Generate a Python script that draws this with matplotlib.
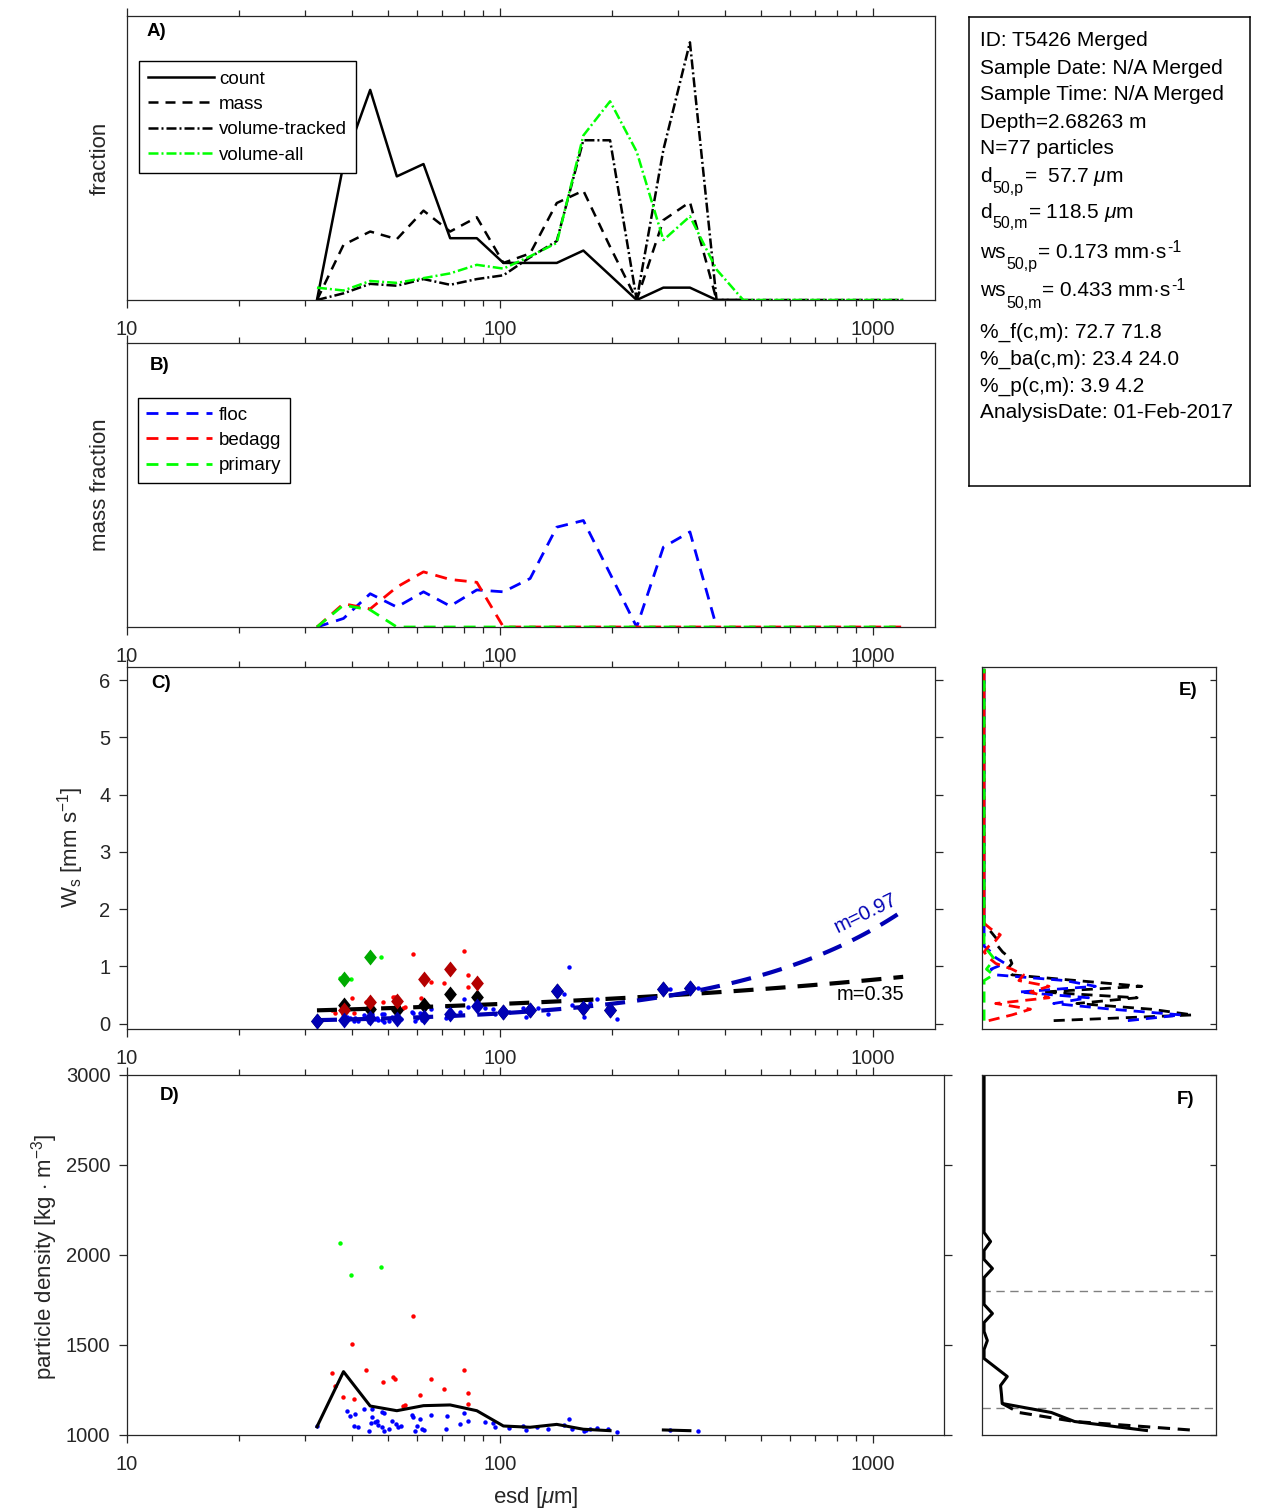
import numpy as np
import matplotlib
matplotlib.use('Agg')
import matplotlib.pyplot as plt
from matplotlib.ticker import LogLocator, NullFormatter, NullLocator

# ---------------- data ----------------
nan = np.nan
esd_bins = [32.3, 38.05, 44.86, 52.88, 62.34, 73.49, 86.63, 102.1, 120.4, 141.9, 167.2,
            197.2, 232.4, 274.0, 322.8, 380.5, 448.6, 528.8, 623.4, 734.9, 866.3, 1021, 1204]
xtick_vals = [10, 100, 1000]
xtick_labels = ['10', '100', '1000']

# panel A: size distributions (fractions)
frac_count = [0, .143, .221, .130, .143, .065, .065, .039, .039, .039, .052, .026, 0, .013, .013, 0, 0,
              nan, nan, nan, nan, nan, nan]
frac_mass = [0, .058, .072, .064, .094, .072, .087, .039, .049, .102, .115, .056, 0, .084, .103, 0, 0,
             nan, nan, nan, nan, nan, nan]
frac_vol_tracked = [0, .007, .017, .015, .022, .016, .022, .026, .045, .062, .168, .168, 0, .158, .271,
                    0, 0, 0, 0, 0, 0, 0, 0]
frac_vol_all = [.013, .010, .020, .018, .023, .028, .037, .033, .046, .060, .173, .209, .156, .063, .088,
                .032, 0, 0, 0, 0, 0, 0, 0]

# panel B: mass fraction by class
mfrac_floc = [0, .009, .035, .021, .037, .022, .039, .037, .051, .105, .112, .056, 0, .084, .100, 0,
              nan, nan, nan, nan, nan, nan, nan]
mfrac_bedagg = [0, .0245, .019, .042, .058, .050, .047, 0, 0, 0, 0, 0, 0, 0, 0, 0, 0, 0, 0, 0, 0, 0, 0]
mfrac_primary = [0, .023, .018, 0, 0, 0, 0, 0, 0, 0, 0, 0, 0, 0, 0, 0, 0, 0, 0, 0, 0, 0, 0]

# individual particles: esd [um], density [kg m-3], settling velocity [mm/s]
floc_d = [32.4, 38.8, 39.7, 40.9, 40.6, 41.7, 43.2, 44.4, 45.0, 45.4, 45.4, 46.3, 46.9, 47.2, 48.3,
          48.3, 48.9, 48.9, 50.3, 51.2, 52.7, 53.2, 54.3, 58.1, 58.5, 59.2, 59.8, 60.9, 61.8, 62.6,
          65.1, 71.7, 72.1, 77.9, 80.0, 82.1, 91.3, 95.8, 96.9, 105.7, 115.1, 117.7, 126.0, 134.6,
          148.8, 152.7, 156.3, 167.7, 170.0, 174.2, 181.7, 194.3, 205.5, 284.8, 340.0]
floc_rho = [1050, 1135, 1107, 1115, 1050, 1046, 1144, 1024, 1065, 1098, 1146, 1070, 1080, 1056, 1130,
            1043, 1120, 1021, 1033, 1078, 1059, 1043, 1050, 1111, 1102, 1024, 1050, 1089, 1035, 1028,
            1111, 1035, 1106, 1059, 1120, 1076, 1070, 1065, 1043, 1037, 1052, 1028, 1046, 1032,
            1057, 1089, 1035, 1021, 1030, 1035, 1037, 1035, 1017, 1028, 1022]
floc_ws = [0.03, 0.11, 0.09, 0.10, 0.05, 0.04, 0.15, 0.03, 0.07, 0.11, 0.16, 0.08, 0.10, 0.07, 0.17,
           0.06, 0.16, 0.03, 0.05, 0.11, 0.09, 0.07, 0.08, 0.20, 0.19, 0.05, 0.10, 0.18, 0.07, 0.06,
           0.26, 0.10, 0.30, 0.20, 0.42, 0.28, 0.27, 0.26, 0.17, 0.20, 0.27, 0.12, 0.27, 0.17,
           0.51, 0.98, 0.33, 0.11, 0.27, 0.36, 0.42, 0.27, 0.08, 0.61, 0.62]
bedagg_d = [35.4, 36.2, 38.0, 40.1, 40.6, 43.8, 48.5, 51.8, 52.4, 55.1, 55.6, 58.3, 61.2, 65.4, 70.8,
            80.0, 81.8, 81.8]
bedagg_rho = [1343, 1272, 1209, 1504, 1198, 1361, 1296, 1324, 1311, 1161, 1167, 1661, 1221, 1313, 1256,
              1361, 1232, 1172]
bedagg_ws = [0.23, 0.19, 0.16, 0.44, 0.18, 0.38, 0.38, 0.47, 0.46, 0.27, 0.28, 1.22, 0.45, 0.73, 0.70,
             1.26, 0.85, 0.63]
primary_d = [37.2, 39.9, 47.9]
primary_rho = [2065, 1887, 1935]
primary_ws = [0.80, 0.77, 1.17]

# bin medians of settling velocity (diamonds), per class
med_ws_all = [0.05, 0.32, 0.25, 0.24, 0.33, 0.52, 0.46, 0.20, 0.24, 0.56, 0.27, 0.24, nan, 0.61, 0.62]
med_ws_floc = [0.05, 0.07, 0.10, 0.08, 0.11, 0.17, 0.30, 0.20, 0.24, 0.56, 0.27, 0.24, nan, 0.61, 0.62]
med_ws_bedagg = [nan, 0.24, 0.37, 0.39, 0.78, 0.96, 0.71]
med_ws_primary = [nan, 0.78, 1.17]

# power-law fits ws = a (d/d_ref)^m
fit_dref = 32.3
fit_dmax = 1204
fit_floc_a, fit_floc_m = 0.059, 0.97
fit_all_a, fit_all_m = 0.23, 0.35

# panel D: median density per size bin
rho_median = [1046, 1352, 1161, 1135, 1163, 1167, 1135, 1050, 1043, 1059, 1032, 1024, nan, 1028, 1024]

# panel E: settling velocity distributions
E_ws = [0.05, 0.15, 0.25, 0.35, 0.45, 0.55, 0.65, 0.75, 0.85, 0.95, 1.05, 1.15, 1.25, 1.35, 1.45,
        1.55, 1.65, 1.75, 6.2]
E_all = [0.30, 0.90, 0.72, 0.40, 0.66, 0.25, 0.68, 0.40, 0.12, 0.10, 0.12, 0.11, 0.08, 0.06, 0.06,
         0.04, 0.02, 0, 0]
E_floc = [0.62, 0.85, 0.55, 0.30, 0.45, 0.15, 0.48, 0.35, 0.05, 0.03, 0.09, 0.05, 0.03, 0, 0, 0, 0, 0, 0]
E_bedagg = [0.02, 0.12, 0.20, 0.05, 0.28, 0.20, 0.28, 0.15, 0.17, 0.12, 0.05, 0.02, 0, 0.02, 0.05,
            0.07, 0.03, 0, 0]
E_primary = [0, 0, 0, 0, 0, 0, 0, 0, 0.04, 0.01, 0.03, 0.04, 0.02, 0, 0, 0, 0, 0, 0]

# panel F: density distributions
F_rho = [3000, 2125, 2075, 2025, 1975, 1925, 1875, 1825, 1775, 1725, 1675, 1625, 1575, 1525, 1475,
         1425, 1375, 1325, 1275, 1225, 1175, 1125, 1075, 1025]
F_frac = [0, 0, .028, 0, 0, .036, 0, 0, 0, 0, .036, 0, 0, .014, 0, 0, .05, .10, .071, .075, .078,
          .29, .39, .70]
F_rho_model = [1175, 1125, 1075, 1025]
F_frac_model = [.078, .15, .39, .92]
F_limits = [1800, 1150]

# info box: pieces per line (text, kind)
info_lines = [
    [("ID: T5426 Merged", "n")],
    [("Sample Date: N/A Merged", "n")],
    [("Sample Time: N/A Merged", "n")],
    [("Depth=2.68263 m", "n")],
    [("N=77 particles", "n")],
    [("d", "n"), ("50,p", "sub"), (r"=  57.7 $\mu$m", "n")],
    [("d", "n"), ("50,m", "sub"), (r"= 118.5 $\mu$m", "n")],
    [("ws", "n"), ("50,p", "sub"), ("= 0.173 mm·s", "n"), ("-1", "sup")],
    [("ws", "n"), ("50,m", "sub"), ("= 0.433 mm·s", "n"), ("-1", "sup")],
    [("%_f(c,m): 72.7 71.8", "n")],
    [("%_ba(c,m): 23.4 24.0", "n")],
    [("%_p(c,m): 3.9 4.2", "n")],
    [("AnalysisDate: 01-Feb-2017", "n")],
]
info_baselines = [46.5, 73.5, 100.5, 127.5, 154.5, 181.5, 217.5, 258.5, 296.5, 337.5, 364.5, 391.5, 418.5]

# ---------------- style ----------------
plt.rcParams['font.family'] = ['Liberation Sans', 'DejaVu Sans']
plt.rcParams['mathtext.fontset'] = 'custom'
plt.rcParams['mathtext.rm'] = 'Liberation Sans'
plt.rcParams['mathtext.it'] = 'Liberation Sans:italic'
plt.rcParams['mathtext.bf'] = 'Liberation Sans:bold'

W, H = 1270, 1511
fig = plt.figure(figsize=(W / 100, H / 100), dpi=100)
AXC = '#262626'
GREEN = (0, 1, 0)
TICK_FS = 14.5
LABEL_FS = 16
LEG_FS = 13.5


def add_ax(x0, y0, x1, y1):
    return fig.add_axes([x0 / W, 1 - y1 / H, (x1 - x0) / W, (y1 - y0) / H])


def frame(ax):
    for s in ax.spines.values():
        s.set_linewidth(0.9)
        s.set_color(AXC)


def logx(ax, xmax):
    ax.set_xscale('log')
    ax.set_xlim(10, xmax)
    ax.set_xticks(xtick_vals)
    ax.set_xticklabels(xtick_labels)
    ax.xaxis.set_minor_locator(LogLocator(base=10, subs=np.arange(2, 10), numticks=20))
    ax.xaxis.set_minor_formatter(NullFormatter())
    ax.tick_params(axis='x', which='both', direction='out', top=True, bottom=True,
                   colors=AXC, labelsize=TICK_FS, pad=8.5)
    ax.tick_params(axis='x', which='major', length=6, width=0.9)
    ax.tick_params(axis='x', which='minor', length=4, width=0.9)


def ptext(x, y, s, **kw):
    return fig.text(x / W, 1 - y / H, s, **kw)


# ---------------- panel A ----------------
axA = add_ax(127, 16, 935, 300)
axA.plot(esd_bins, frac_count, color='k', lw=1.8, label='count')
axA.plot(esd_bins, frac_mass, color='k', lw=1.8, ls=(0, (4, 2.8)), label='mass')
axA.plot(esd_bins, frac_vol_tracked, color='k', lw=1.8, ls=(0, (4, 1.2, 0.8, 1.2)), label='volume-tracked')
axA.plot(esd_bins, frac_vol_all, color=GREEN, lw=1.8, ls=(0, (4, 1.2, 0.8, 1.2)), label='volume-all')
axA.set_ylim(0, 0.2987)
axA.yaxis.set_major_locator(NullLocator())
logx(axA, 1465)
frame(axA)
legA = axA.legend(loc='upper left', bbox_to_anchor=((139 - 127) / 808, 1 - (61 - 16) / 284),
                  borderaxespad=0, fontsize=LEG_FS, handlelength=3.5, handletextpad=0.27,
                  labelspacing=0.44, borderpad=0.5, fancybox=False, edgecolor='k', framealpha=1)
legA.get_frame().set_linewidth(1.0)
ptext(156, 32, 'A)', ha='center', va='center', fontsize=13.5, fontweight='bold')
ptext(100, 158, 'fraction', ha='center', va='center', rotation=90, fontsize=LABEL_FS, color=AXC)

# ---------------- panel B ----------------
axB = add_ax(127, 343, 935, 627)
axB.plot(esd_bins, mfrac_floc, color='b', lw=2, ls=(0, (4.3, 2.9)), label='floc')
axB.plot(esd_bins, mfrac_bedagg, color='r', lw=2, ls=(0, (4.3, 2.9)), label='bedagg')
axB.plot(esd_bins, mfrac_primary, color=GREEN, lw=2, ls=(0, (4.3, 2.9)), label='primary')
axB.set_ylim(0, 0.2987)
axB.yaxis.set_major_locator(NullLocator())
logx(axB, 1465)
frame(axB)
legB = axB.legend(loc='upper left', bbox_to_anchor=((138 - 127) / 808, 1 - (398 - 343) / 284),
                  borderaxespad=0, fontsize=LEG_FS, handlelength=3.5, handletextpad=0.35,
                  labelspacing=0.44, borderpad=0.45, fancybox=False, edgecolor='k', framealpha=1)
legB.get_frame().set_linewidth(1.0)
ptext(160, 365, 'B)', ha='center', va='center', fontsize=13.5, fontweight='bold')
ptext(100, 485, 'mass fraction', ha='center', va='center', rotation=90, fontsize=LABEL_FS, color=AXC)

# ---------------- panel C ----------------
C_ylim = (-0.096, 6.23)
axC = add_ax(127, 667, 935, 1029)
axC.plot(floc_d, floc_ws, 'o', color='b', ms=3.2, mew=0, zorder=2)
axC.plot(bedagg_d, bedagg_ws, 'o', color='r', ms=3.2, mew=0, zorder=2)
axC.plot(primary_d, primary_ws, 'o', color=GREEN, ms=3.2, mew=0, zorder=2)
d_fit = np.geomspace(fit_dref, fit_dmax, 120)
axC.plot(d_fit, fit_all_a * (d_fit / fit_dref) ** fit_all_m, color='k', lw=3,
         ls=(0, (4.8, 2.9)), zorder=3)
axC.plot(d_fit, fit_floc_a * (d_fit / fit_dref) ** fit_floc_m, color='#0000B4', lw=3,
         ls=(0, (4.8, 2.9)), zorder=3)
dia = [(0, 1), (0.8, 0), (0, -1), (-0.8, 0), (0, 1)]
axC.plot(esd_bins[:len(med_ws_all)], med_ws_all, ls='none', marker=dia, ms=11.5, color='k', mew=0, zorder=4)
axC.plot(esd_bins[:len(med_ws_bedagg)], med_ws_bedagg, ls='none', marker=dia, ms=11.5, color='#B40000', mew=0, zorder=5)
axC.plot(esd_bins[:len(med_ws_primary)], med_ws_primary, ls='none', marker=dia, ms=11.5, color='#00AA00', mew=0, zorder=5)
axC.plot(esd_bins[:len(med_ws_floc)], med_ws_floc, ls='none', marker=dia, ms=11.5, color='#0000B4', mew=0, zorder=6)
axC.set_ylim(*C_ylim)
axC.set_yticks(range(0, 7))
axC.tick_params(axis='y', direction='out', left=True, right=True, length=6, width=0.9,
                colors=AXC, labelsize=TICK_FS, pad=6)
logx(axC, 1465)
frame(axC)
ptext(161, 684, 'C)', ha='center', va='center', fontsize=13.5, fontweight='bold')
ptext(866, 913, 'm=0.97', ha='center', va='center', rotation=26, fontsize=TICK_FS, color='#0000B4')
ptext(870, 995, 'm=0.35', ha='center', va='center', fontsize=TICK_FS, color='k')
ptext(71, 847, r'W$_{\mathrm{s}}$ [mm s$^{\mathrm{-1}}$]', ha='center', va='center', rotation=90,
      fontsize=LABEL_FS, color=AXC)

# ---------------- panel D ----------------
axD = add_ax(127, 1075, 944, 1435)
axD.plot(floc_d, floc_rho, 'o', color='b', ms=3.2, mew=0, zorder=2)
axD.plot(bedagg_d, bedagg_rho, 'o', color='r', ms=3.2, mew=0, zorder=2)
axD.plot(primary_d, primary_rho, 'o', color=GREEN, ms=3.2, mew=0, zorder=2)
axD.plot(esd_bins[:len(rho_median)], rho_median, color='k', lw=2.2, zorder=3)
axD.set_ylim(1000, 3000)
axD.set_yticks([1000, 1500, 2000, 2500, 3000])
axD.tick_params(axis='y', direction='out', left=True, right=True, length=6, width=0.9,
                colors=AXC, labelsize=TICK_FS, pad=6)
logx(axD, 1549)
frame(axD)
axD.set_xlabel(r'esd [$\mu$m]', fontsize=LABEL_FS, color=AXC, labelpad=8)
ptext(170, 1096, 'D)', ha='center', va='center', fontsize=13.5, fontweight='bold')
ptext(45, 1257, r'particle density [kg $\cdot$ m$^{\mathrm{-3}}$]', ha='center', va='center',
      rotation=90, fontsize=LABEL_FS, color=AXC)

# ---------------- panel E ----------------
axE = add_ax(982, 667, 1216, 1029)
for vals, col in [(E_all, 'k'), (E_floc, 'b'), (E_bedagg, 'r'), (E_primary, GREEN)]:
    axE.plot(vals, E_ws, color=col, lw=2, ls=(0, (4, 2.5)))
axE.set_xlim(-0.009, 1)
axE.set_ylim(*C_ylim)
axE.set_xticks([])
axE.set_yticks(range(0, 7))
axE.tick_params(axis='y', direction='in', left=False, right=True, labelleft=False,
                labelright=False, length=4.3, width=0.9, colors=AXC)
frame(axE)
ptext(1188, 690, 'E)', ha='center', va='center', fontsize=13.5, fontweight='bold')

# ---------------- panel F ----------------
axF = add_ax(982, 1075, 1216, 1435)
for lim in F_limits:
    axF.axhline(lim, color='0.5', lw=1, ls=(0, (6, 4)))
axF.plot(F_frac, F_rho, color='k', lw=2.2)
axF.plot(F_frac_model, F_rho_model, color='k', lw=2.2, ls=(0, (4, 2.5)))
axF.set_xlim(-0.009, 1)
axF.set_ylim(1000, 3000)
axF.set_xticks([])
axF.set_yticks([1000, 1500, 2000, 2500, 3000])
axF.tick_params(axis='y', direction='in', left=False, right=True, labelleft=False,
                labelright=False, length=4.3, width=0.9, colors=AXC)
frame(axF)
ptext(1186, 1100, 'F)', ha='center', va='center', fontsize=13.5, fontweight='bold')

# ---------------- info box ----------------
axT = add_ax(969, 17, 1250, 486)
axT.set_xticks([])
axT.set_yticks([])
for s in axT.spines.values():
    s.set_linewidth(1.1)
    s.set_color('k')

renderer = fig.canvas.get_renderer()
piece_fmt = {"n": (15, 0), "sub": (11.5, -11), "sup": (11.5, 7)}
for pieces, yb in zip(info_lines, info_baselines):
    x = 980
    for s, kind in pieces:
        size, dy = piece_fmt[kind]
        t = ptext(x, yb - dy, s, ha='left', va='baseline', fontsize=size, color='k')
        bb = t.get_window_extent(renderer)
        x = bb.x1 + (1 if kind != "n" else 0.5)

fig.savefig('out.png', dpi=100)
